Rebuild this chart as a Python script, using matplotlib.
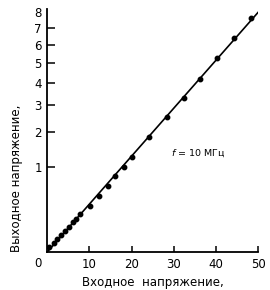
import numpy as np
import matplotlib
matplotlib.use("Agg")
import matplotlib.pyplot as plt
from matplotlib import transforms

# data
in_v = [0.5, 1.5, 2.4, 3.3, 4.2, 5.2, 6.1, 6.9, 7.8, 10.2, 12.3, 14.3, 16.1,
        18.1, 20.1, 24.1, 28.4, 32.5, 36.3, 40.3, 44.3, 48.4]
out_v = [0.003, 0.011, 0.023, 0.040, 0.061, 0.089, 0.123, 0.155, 0.198, 0.299,
         0.437, 0.616, 0.805, 1.007, 1.266, 1.834, 2.529, 3.32, 4.17, 5.23,
         6.37, 7.63]
fit_x = [0, 50]
fit_y = [0, 8.0]
x_ticks = [10, 20, 30, 40, 50]
y_ticks = [1, 2, 3, 4, 5, 6, 7, 8]

plt.rcParams['font.family'] = ['DejaVu Sans']

fig = plt.figure(figsize=(2.7, 2.9), dpi=100)
ax = fig.add_axes([0.175, 0.131, 0.7807, 0.838])
ax.set_yscale('function', functions=(lambda v: np.sqrt(np.clip(v, 0, None)), lambda s: s ** 2))

ax.plot(fit_x, fit_y, color='black', lw=1.2, zorder=2)
ax.plot(in_v, out_v, 'o', color='black', ms=3.2, zorder=3)

ax.set_xlim(0, 50)
ax.set_ylim(0, 8.23)
ax.set_xticks(x_ticks)
ax.set_xticklabels([str(t) for t in x_ticks])
ax.set_yticks(y_ticks)
ax.set_yticklabels([str(t) for t in y_ticks])
ax.yaxis.set_minor_locator(matplotlib.ticker.NullLocator())
ax.xaxis.set_minor_locator(matplotlib.ticker.NullLocator())

for s in ['top', 'right']:
    ax.spines[s].set_visible(False)
for s in ['left', 'bottom']:
    ax.spines[s].set_linewidth(1.3)

ax.tick_params(axis='x', direction='in', length=4.5, width=1.1, labelsize=8.5, pad=4)
ax.tick_params(axis='y', direction='in', length=6, width=1.1, labelsize=8.5, pad=4)
ax.yaxis.get_major_ticks()[-1].tick1line.set_visible(False)

off = transforms.offset_copy(ax.transData, fig=fig, x=-9, y=-11, units='dots')
ax.text(0, 0, '0', transform=off, ha='center', va='center', fontsize=8.5)

ax.set_xlabel('Входное  напряжение,', fontsize=8.5, labelpad=4)
ax.set_ylabel('Выходное напряжение,', fontsize=8.5, loc='bottom', labelpad=8)

ax.text(0.585, 0.407, '$f$ = 10 МГц', transform=ax.transAxes, fontsize=6.8,
        ha='left', va='center')

fig.savefig('out.png', dpi=100)
